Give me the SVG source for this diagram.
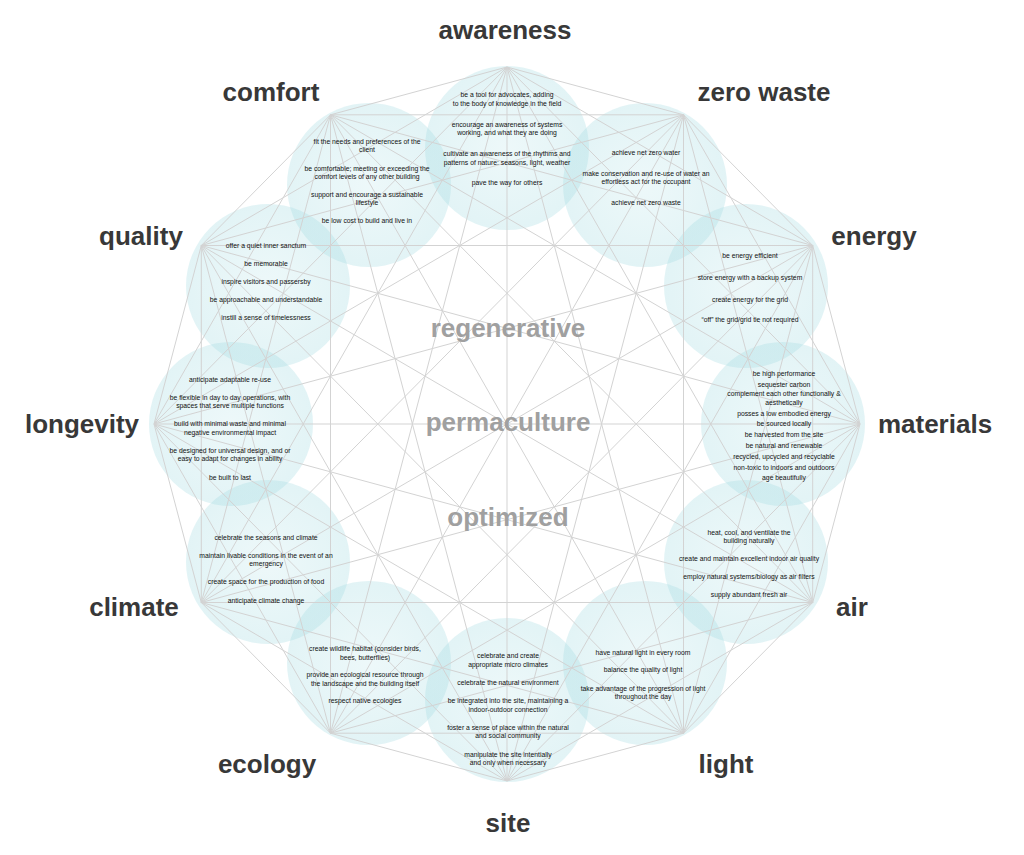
<svg xmlns="http://www.w3.org/2000/svg" width="1024" height="855" viewBox="0 0 1024 855">
<defs>
<radialGradient id="cg" cx="0.5" cy="0.5" r="0.5">
<stop offset="0" stop-color="#a6dde3" stop-opacity="0.2"/>
<stop offset="1" stop-color="#9fd9e0" stop-opacity="0.3"/>
</radialGradient>
<style>
.bub{fill:url(#cg);}
.c line{stroke:#d3d3d3;stroke-width:1;fill:none;}
.lab{font-family:"Liberation Sans",Arial,sans-serif;font-weight:bold;font-size:26px;fill:#383838;text-anchor:middle;}
.mid{font-family:"Liberation Sans",Arial,sans-serif;font-weight:bold;font-size:26px;fill:#a0a0a0;text-anchor:middle;}
.t{font-family:"Liberation Sans",Arial,sans-serif;font-size:6.8px;fill:#111;text-anchor:middle;}
</style>
</defs>
<rect width="1024" height="855" fill="#fff"/>
<g id="bubbles">
<circle class="bub" cx="507" cy="148" r="82"/>
<circle class="bub" cx="645" cy="185" r="82"/>
<circle class="bub" cx="746" cy="286" r="82"/>
<circle class="bub" cx="783" cy="424" r="82"/>
<circle class="bub" cx="746" cy="562" r="82"/>
<circle class="bub" cx="645" cy="663" r="82"/>
<circle class="bub" cx="507" cy="700" r="82"/>
<circle class="bub" cx="369" cy="663" r="82"/>
<circle class="bub" cx="268" cy="562" r="82"/>
<circle class="bub" cx="231" cy="424" r="82"/>
<circle class="bub" cx="268" cy="286" r="82"/>
<circle class="bub" cx="369" cy="185" r="82"/>
</g>
<g id="connectors" class="c">
<line x1="507" y1="67" x2="683.5" y2="114.8"/>
<line x1="507" y1="67" x2="812.7" y2="245.5"/>
<line x1="507" y1="67" x2="860" y2="424"/>
<line x1="507" y1="67" x2="812.7" y2="602.5"/>
<line x1="507" y1="67" x2="683.5" y2="733.2"/>
<line x1="507" y1="67" x2="507" y2="781"/>
<line x1="507" y1="67" x2="330.5" y2="733.2"/>
<line x1="507" y1="67" x2="201.3" y2="602.5"/>
<line x1="507" y1="67" x2="154" y2="424"/>
<line x1="507" y1="67" x2="201.3" y2="245.5"/>
<line x1="507" y1="67" x2="330.5" y2="114.8"/>
<line x1="683.5" y1="114.8" x2="812.7" y2="245.5"/>
<line x1="683.5" y1="114.8" x2="860" y2="424"/>
<line x1="683.5" y1="114.8" x2="812.7" y2="602.5"/>
<line x1="683.5" y1="114.8" x2="683.5" y2="733.2"/>
<line x1="683.5" y1="114.8" x2="507" y2="781"/>
<line x1="683.5" y1="114.8" x2="330.5" y2="733.2"/>
<line x1="683.5" y1="114.8" x2="201.3" y2="602.5"/>
<line x1="683.5" y1="114.8" x2="154" y2="424"/>
<line x1="683.5" y1="114.8" x2="201.3" y2="245.5"/>
<line x1="683.5" y1="114.8" x2="330.5" y2="114.8"/>
<line x1="812.7" y1="245.5" x2="860" y2="424"/>
<line x1="812.7" y1="245.5" x2="812.7" y2="602.5"/>
<line x1="812.7" y1="245.5" x2="683.5" y2="733.2"/>
<line x1="812.7" y1="245.5" x2="507" y2="781"/>
<line x1="812.7" y1="245.5" x2="330.5" y2="733.2"/>
<line x1="812.7" y1="245.5" x2="201.3" y2="602.5"/>
<line x1="812.7" y1="245.5" x2="154" y2="424"/>
<line x1="812.7" y1="245.5" x2="201.3" y2="245.5"/>
<line x1="812.7" y1="245.5" x2="330.5" y2="114.8"/>
<line x1="860" y1="424" x2="812.7" y2="602.5"/>
<line x1="860" y1="424" x2="683.5" y2="733.2"/>
<line x1="860" y1="424" x2="507" y2="781"/>
<line x1="860" y1="424" x2="330.5" y2="733.2"/>
<line x1="860" y1="424" x2="201.3" y2="602.5"/>
<line x1="860" y1="424" x2="154" y2="424"/>
<line x1="860" y1="424" x2="201.3" y2="245.5"/>
<line x1="860" y1="424" x2="330.5" y2="114.8"/>
<line x1="812.7" y1="602.5" x2="683.5" y2="733.2"/>
<line x1="812.7" y1="602.5" x2="507" y2="781"/>
<line x1="812.7" y1="602.5" x2="330.5" y2="733.2"/>
<line x1="812.7" y1="602.5" x2="201.3" y2="602.5"/>
<line x1="812.7" y1="602.5" x2="154" y2="424"/>
<line x1="812.7" y1="602.5" x2="201.3" y2="245.5"/>
<line x1="812.7" y1="602.5" x2="330.5" y2="114.8"/>
<line x1="683.5" y1="733.2" x2="507" y2="781"/>
<line x1="683.5" y1="733.2" x2="330.5" y2="733.2"/>
<line x1="683.5" y1="733.2" x2="201.3" y2="602.5"/>
<line x1="683.5" y1="733.2" x2="154" y2="424"/>
<line x1="683.5" y1="733.2" x2="201.3" y2="245.5"/>
<line x1="683.5" y1="733.2" x2="330.5" y2="114.8"/>
<line x1="507" y1="781" x2="330.5" y2="733.2"/>
<line x1="507" y1="781" x2="201.3" y2="602.5"/>
<line x1="507" y1="781" x2="154" y2="424"/>
<line x1="507" y1="781" x2="201.3" y2="245.5"/>
<line x1="507" y1="781" x2="330.5" y2="114.8"/>
<line x1="330.5" y1="733.2" x2="201.3" y2="602.5"/>
<line x1="330.5" y1="733.2" x2="154" y2="424"/>
<line x1="330.5" y1="733.2" x2="201.3" y2="245.5"/>
<line x1="330.5" y1="733.2" x2="330.5" y2="114.8"/>
<line x1="201.3" y1="602.5" x2="154" y2="424"/>
<line x1="201.3" y1="602.5" x2="201.3" y2="245.5"/>
<line x1="201.3" y1="602.5" x2="330.5" y2="114.8"/>
<line x1="154" y1="424" x2="201.3" y2="245.5"/>
<line x1="154" y1="424" x2="330.5" y2="114.8"/>
<line x1="201.3" y1="245.5" x2="330.5" y2="114.8"/>
</g>
<g id="center">
<text class="mid" x="508" y="337">regenerative</text>
<text class="mid" x="508" y="431">permaculture</text>
<text class="mid" x="508" y="526">optimized</text>
</g>
<g id="awareness">
<text class="lab" x="505" y="39">awareness</text>
<text class="t" x="507" y="97">be a tool for advocates, adding</text>
<text class="t" x="507" y="105.5">to the body of knowledge in the field</text>
<text class="t" x="507" y="126.5">encourage an awareness of systems</text>
<text class="t" x="507" y="135">working, and what they are doing</text>
<text class="t" x="507" y="156">cultivate an awareness of the rhythms and</text>
<text class="t" x="507" y="164.5">patterns of nature: seasons, light, weather</text>
<text class="t" x="507" y="185">pave the way for others</text>
</g>
<g id="zero-waste">
<text class="lab" x="764" y="101">zero waste</text>
<text class="t" x="646" y="155">achieve net zero water</text>
<text class="t" x="646" y="175.5">make conservation and re-use of water an</text>
<text class="t" x="646" y="184">effortless act for the occupant</text>
<text class="t" x="646" y="205">achieve net zero waste</text>
</g>
<g id="energy">
<text class="lab" x="874" y="245">energy</text>
<text class="t" x="750" y="258">be energy efficient</text>
<text class="t" x="750" y="280">store energy with a backup system</text>
<text class="t" x="750" y="301.5">create energy for the grid</text>
<text class="t" x="750" y="322">“off” the grid/grid tie not required</text>
</g>
<g id="materials">
<text class="lab" x="935" y="433">materials</text>
<text class="t" x="784" y="375.5">be high performance</text>
<text class="t" x="784" y="386.5">sequester carbon</text>
<text class="t" x="784" y="396">complement each other functionally &amp;</text>
<text class="t" x="784" y="404.5">aesthetically</text>
<text class="t" x="784" y="415.5">posses a low embodied energy</text>
<text class="t" x="784" y="426.2">be sourced locally</text>
<text class="t" x="784" y="436.5">be harvested from the site</text>
<text class="t" x="784" y="447.5">be natural and renewable</text>
<text class="t" x="784" y="459.2">recycled, upcycled and recyclable</text>
<text class="t" x="784" y="470">non-toxic to indoors and outdoors</text>
<text class="t" x="784" y="479.5">age beautifully</text>
</g>
<g id="air">
<text class="lab" x="852" y="616">air</text>
<text class="t" x="749" y="534.5">heat, cool, and ventilate the</text>
<text class="t" x="749" y="542.5">building naturally</text>
<text class="t" x="749" y="560.5">create and maintain excellent indoor air quality</text>
<text class="t" x="749" y="579">employ natural systems/biology as air filters</text>
<text class="t" x="749" y="597.3">supply abundant fresh air</text>
</g>
<g id="light">
<text class="lab" x="726" y="773">light</text>
<text class="t" x="643" y="655">have natural light in every room</text>
<text class="t" x="643" y="672.3">balance the quality of light</text>
<text class="t" x="643" y="690.5">take advantage of the progression of light</text>
<text class="t" x="643" y="699">throughout the day</text>
</g>
<g id="site">
<text class="lab" x="508" y="832">site</text>
<text class="t" x="508" y="658">celebrate and create</text>
<text class="t" x="508" y="666.5">appropriate micro climates</text>
<text class="t" x="508" y="685">celebrate the natural environment</text>
<text class="t" x="508" y="703">be integrated into the site, maintaining a</text>
<text class="t" x="508" y="711.5">indoor-outdoor connection</text>
<text class="t" x="508" y="729.5">foster a sense of place within the natural</text>
<text class="t" x="508" y="738.2">and social community</text>
<text class="t" x="508" y="756.5">manipulate the site intentially</text>
<text class="t" x="508" y="765">and only when necessary</text>
</g>
<g id="ecology">
<text class="lab" x="267" y="773">ecology</text>
<text class="t" x="365" y="651.3">create wildlife habitat (consider birds,</text>
<text class="t" x="365" y="660">bees, butterflies)</text>
<text class="t" x="365" y="677.3">provide an ecological resource through</text>
<text class="t" x="365" y="685.6">the landscape and the building itself</text>
<text class="t" x="365" y="703.3">respect native ecologies</text>
</g>
<g id="climate">
<text class="lab" x="134" y="616">climate</text>
<text class="t" x="266" y="540">celebrate the seasons and climate</text>
<text class="t" x="266" y="558">maintain livable conditions in the event of an</text>
<text class="t" x="266" y="566.3">emergency</text>
<text class="t" x="266" y="584">create space for the production of food</text>
<text class="t" x="266" y="603">anticipate climate change</text>
</g>
<g id="longevity">
<text class="lab" x="82" y="433">longevity</text>
<text class="t" x="230" y="381.5">anticipate adaptable re-use</text>
<text class="t" x="230" y="399.5">be flexible in day to day operations, with</text>
<text class="t" x="230" y="408">spaces that serve multiple functions</text>
<text class="t" x="230" y="426.3">build with minimal waste and minimal</text>
<text class="t" x="230" y="435">negative environmental impact</text>
<text class="t" x="230" y="453">be designed for universal design, and or</text>
<text class="t" x="230" y="461.3">easy to adapt for changes in ability</text>
<text class="t" x="230" y="479.6">be built to last</text>
</g>
<g id="quality">
<text class="lab" x="141" y="245">quality</text>
<text class="t" x="266" y="248.3">offer a quiet inner sanctum</text>
<text class="t" x="266" y="265.6">be memorable</text>
<text class="t" x="266" y="284">inspire visitors and passersby</text>
<text class="t" x="266" y="302.3">be approachable and understandable</text>
<text class="t" x="266" y="320">instill a sense of timelessness</text>
</g>
<g id="comfort">
<text class="lab" x="271" y="101">comfort</text>
<text class="t" x="367" y="144">fit the needs and preferences of the</text>
<text class="t" x="367" y="152.3">client</text>
<text class="t" x="367" y="170.6">be comfortable; meeting or exceeding the</text>
<text class="t" x="367" y="179.3">comfort levels of any other building</text>
<text class="t" x="367" y="196.6">support and encourage a sustainable</text>
<text class="t" x="367" y="205.3">lifestyle</text>
<text class="t" x="367" y="223">be low cost to build and live in</text>
</g>
</svg>
